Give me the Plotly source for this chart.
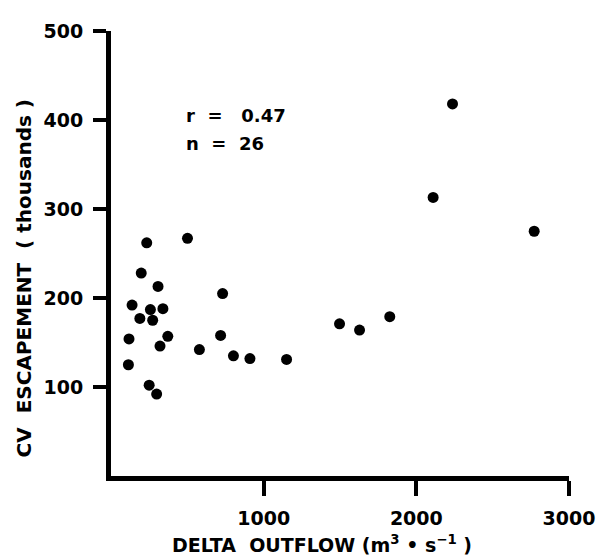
import plotly.graph_objects as go

# Delta outflow (m3/s) and CV escapement (thousands)
outflow = [234, 501, 198, 308, 731, 138, 258, 340, 189, 273, 118, 372, 321, 579,
           718, 802, 910, 1150, 114, 250, 299, 1497, 1628, 1826, 2237, 2110, 2772]
escapement = [262, 267, 228, 213, 205, 192, 187, 188, 177, 175, 154, 157, 146, 142,
              158, 135, 132, 131, 125, 102, 92, 171, 164, 179, 418, 313, 275]

x_ticks = [1000, 2000, 3000]
y_ticks = [100, 200, 300, 400, 500]

FONT = "DejaVu Sans"
NB = "\u00a0"

fig = go.Figure()
fig.add_trace(go.Scatter(
    x=outflow, y=escapement, mode="markers",
    marker=dict(color="black", size=11, line=dict(width=0)),
    showlegend=False, hoverinfo="skip",
))

axis_common = dict(
    showline=True, linecolor="black", linewidth=5, mirror=False,
    showgrid=False, zeroline=False,
    ticks="outside", tickcolor="black", tickwidth=4,
    tickfont=dict(family=FONT, size=19, color="black", weight="bold"),
)

fig.update_xaxes(range=[0, 3000], tickvals=x_ticks, ticklen=15,
                 ticklabelstandoff=6, **axis_common)
fig.update_yaxes(range=[0, 500], tickvals=y_ticks, ticklen=13,
                 ticklabelstandoff=6, **axis_common)

fig.add_annotation(
    xref="paper", yref="paper", x=0.46, y=-0.152,
    text=f"DELTA{NB}{NB}OUTFLOW{NB}(m<sup>3</sup>{NB}•{NB}s<sup>−1</sup>{NB})",
    showarrow=False, xanchor="center", yanchor="middle",
    font=dict(family=FONT, size=19, color="black", weight="bold"),
)
fig.add_annotation(
    xref="paper", yref="paper", x=-0.191, y=0.443,
    text=f"CV{NB}{NB}ESCAPEMENT{NB}{NB}({NB}thousands{NB})",
    textangle=-90, showarrow=False, xanchor="center", yanchor="middle",
    font=dict(family=FONT, size=20, color="black", weight="bold"),
)
fig.add_annotation(
    xref="paper", yref="paper", x=0.159, y=0.811,
    text=f"r{NB}{NB}={NB}{NB}{NB}0.47",
    showarrow=False, xanchor="left", yanchor="middle",
    font=dict(family=FONT, size=18, color="black", weight="bold"),
)
fig.add_annotation(
    xref="paper", yref="paper", x=0.159, y=0.748,
    text=f"n{NB}{NB}={NB}{NB}26",
    showarrow=False, xanchor="left", yanchor="middle",
    font=dict(family=FONT, size=18, color="black", weight="bold"),
)

# page body has an 8px default margin, so the figure is offset accordingly
fig.update_layout(
    width=599, height=548,
    margin=dict(l=103, r=31, t=12, b=80),
    paper_bgcolor="white", plot_bgcolor="white",
)

fig.write_html("out.html")
